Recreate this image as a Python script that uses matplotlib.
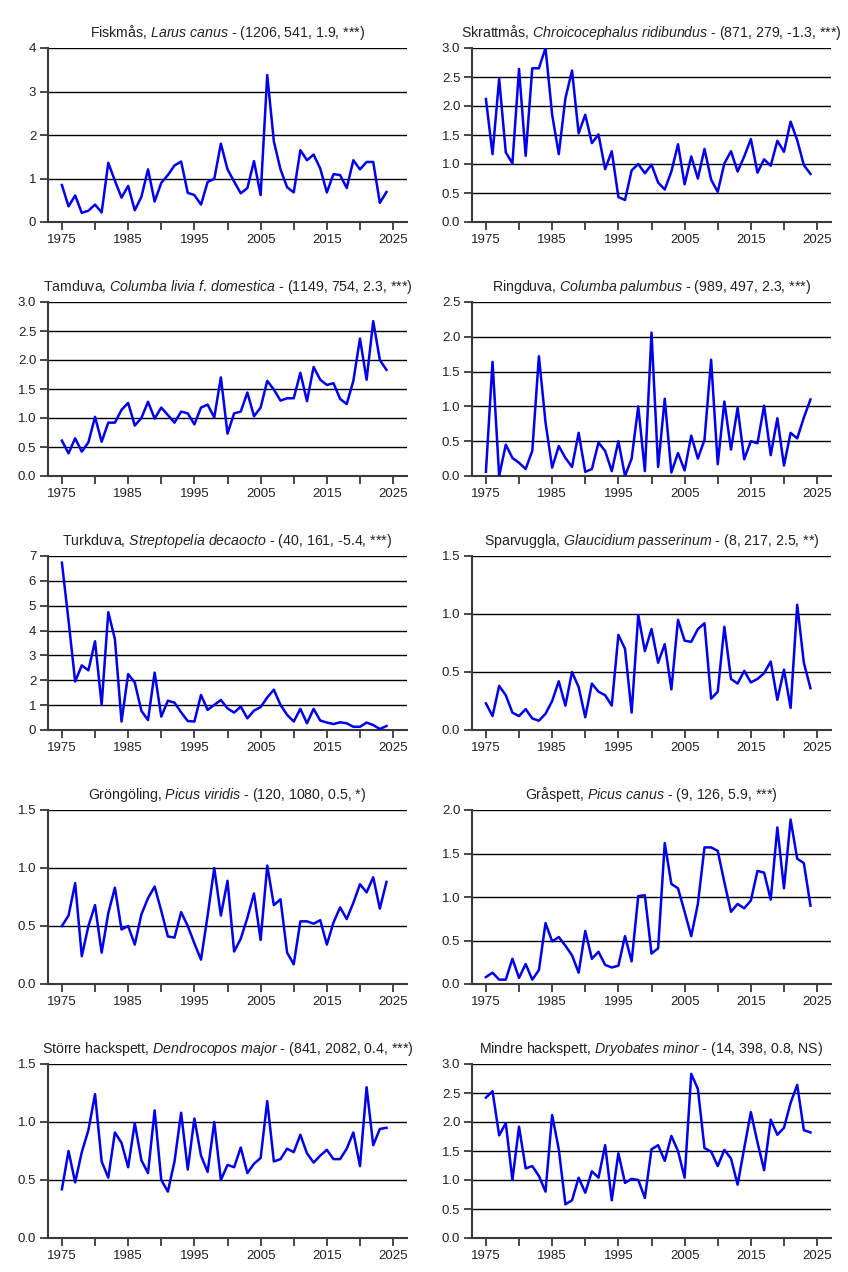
import numpy as np
import matplotlib
matplotlib.use("Agg")
import matplotlib.pyplot as plt
from matplotlib.ticker import MultipleLocator, FormatStrFormatter

plt.rcParams['font.family'] = ['Liberation Sans', 'DejaVu Sans']
plt.rcParams['mathtext.fontset'] = 'custom'
plt.rcParams['mathtext.rm'] = 'Liberation Sans'
plt.rcParams['mathtext.it'] = 'Liberation Sans:italic'

years = list(range(1975, 2025))

fiskmas = [0.85, 0.36, 0.61, 0.21, 0.26, 0.40, 0.22, 1.36, 0.95, 0.56,
           0.83, 0.27, 0.58, 1.21, 0.47, 0.90, 1.08, 1.30, 1.39, 0.67,
           0.62, 0.40, 0.92, 0.99, 1.80, 1.21, 0.93, 0.66, 0.78, 1.40,
           0.62, 3.38, 1.85, 1.21, 0.80, 0.68, 1.65, 1.42, 1.55, 1.23,
           0.68, 1.10, 1.08, 0.78, 1.42, 1.21, 1.38, 1.38, 0.44, 0.69]
skrattmas = [2.12, 1.17, 2.47, 1.20, 1.01, 2.64, 1.14, 2.65, 2.65, 3.00,
             1.85, 1.17, 2.13, 2.61, 1.53, 1.85, 1.36, 1.51, 0.91, 1.22,
             0.43, 0.38, 0.89, 1.00, 0.84, 0.99, 0.68, 0.56, 0.87, 1.34,
             0.65, 1.13, 0.75, 1.26, 0.73, 0.52, 1.01, 1.22, 0.87, 1.13,
             1.43, 0.85, 1.08, 0.97, 1.40, 1.21, 1.73, 1.41, 0.98, 0.83]
tamduva = [0.61, 0.39, 0.65, 0.42, 0.58, 1.02, 0.59, 0.92, 0.92, 1.14,
           1.26, 0.87, 1.00, 1.28, 0.99, 1.18, 1.05, 0.92, 1.11, 1.08,
           0.89, 1.18, 1.23, 1.01, 1.70, 0.73, 1.08, 1.11, 1.44, 1.03,
           1.18, 1.64, 1.49, 1.30, 1.34, 1.34, 1.78, 1.29, 1.88, 1.66,
           1.57, 1.60, 1.33, 1.24, 1.64, 2.37, 1.66, 2.67, 2.00, 1.83]
ringduva = [0.06, 1.64, 0.00, 0.45, 0.26, 0.19, 0.10, 0.36, 1.72, 0.77,
            0.12, 0.43, 0.26, 0.13, 0.62, 0.06, 0.10, 0.48, 0.36, 0.07,
            0.50, 0.00, 0.25, 1.00, 0.07, 2.06, 0.13, 1.11, 0.05, 0.33,
            0.08, 0.58, 0.25, 0.52, 1.67, 0.17, 1.07, 0.38, 0.98, 0.24,
            0.50, 0.47, 1.01, 0.30, 0.83, 0.15, 0.62, 0.54, 0.84, 1.10]
turkduva = [6.73, 4.40, 1.95, 2.60, 2.40, 3.57, 1.01, 4.74, 3.66, 0.34,
            2.25, 1.91, 0.77, 0.40, 2.31, 0.54, 1.18, 1.10, 0.71, 0.36,
            0.34, 1.41, 0.81, 1.01, 1.21, 0.87, 0.70, 0.94, 0.47, 0.78,
            0.92, 1.31, 1.62, 1.01, 0.61, 0.34, 0.85, 0.27, 0.85, 0.38,
            0.30, 0.24, 0.31, 0.27, 0.13, 0.13, 0.30, 0.20, 0.04, 0.16]
sparvuggla = [0.23, 0.12, 0.38, 0.30, 0.15, 0.12, 0.18, 0.10, 0.08, 0.14,
              0.25, 0.42, 0.21, 0.50, 0.37, 0.11, 0.40, 0.33, 0.30, 0.21,
              0.82, 0.70, 0.15, 0.99, 0.68, 0.87, 0.58, 0.74, 0.35, 0.95,
              0.77, 0.76, 0.87, 0.92, 0.27, 0.33, 0.89, 0.44, 0.40, 0.51,
              0.41, 0.44, 0.49, 0.59, 0.26, 0.52, 0.19, 1.08, 0.58, 0.36]
grongoling = [0.50, 0.59, 0.87, 0.24, 0.50, 0.68, 0.27, 0.61, 0.83, 0.47,
              0.50, 0.34, 0.60, 0.74, 0.84, 0.63, 0.41, 0.40, 0.62, 0.50,
              0.35, 0.21, 0.59, 1.00, 0.59, 0.89, 0.28, 0.39, 0.57, 0.78,
              0.38, 1.02, 0.68, 0.73, 0.27, 0.17, 0.54, 0.54, 0.52, 0.55,
              0.34, 0.53, 0.66, 0.56, 0.70, 0.86, 0.79, 0.92, 0.65, 0.88]
graspett = [0.08, 0.13, 0.05, 0.05, 0.29, 0.07, 0.23, 0.05, 0.16, 0.70,
            0.49, 0.54, 0.44, 0.33, 0.13, 0.61, 0.29, 0.37, 0.22, 0.19,
            0.21, 0.55, 0.26, 1.01, 1.02, 0.35, 0.41, 1.62, 1.15, 1.10,
            0.83, 0.55, 0.92, 1.57, 1.57, 1.53, 1.17, 0.83, 0.92, 0.87,
            0.96, 1.30, 1.28, 0.97, 1.80, 1.10, 1.89, 1.44, 1.39, 0.90]
storre_hackspett = [0.42, 0.75, 0.48, 0.74, 0.93, 1.24, 0.66, 0.52, 0.91, 0.82,
                    0.61, 0.99, 0.67, 0.56, 1.10, 0.50, 0.40, 0.66, 1.08, 0.59,
                    1.03, 0.71, 0.57, 1.00, 0.50, 0.63, 0.61, 0.78, 0.56, 0.64,
                    0.69, 1.18, 0.66, 0.68, 0.77, 0.74, 0.89, 0.73, 0.65, 0.71,
                    0.76, 0.68, 0.68, 0.77, 0.91, 0.62, 1.30, 0.80, 0.94, 0.95]
mindre_hackspett = [2.42, 2.53, 1.77, 1.98, 1.00, 1.92, 1.20, 1.24, 1.07, 0.80,
                    2.12, 1.53, 0.58, 0.65, 1.04, 0.78, 1.15, 1.04, 1.60, 0.65,
                    1.46, 0.95, 1.02, 1.00, 0.69, 1.53, 1.60, 1.33, 1.76, 1.50,
                    1.04, 2.83, 2.57, 1.55, 1.49, 1.24, 1.52, 1.37, 0.92, 1.55,
                    2.17, 1.65, 1.17, 2.04, 1.78, 1.90, 2.33, 2.64, 1.86, 1.82]

# italic species names via mathtext; the period after "f" kept outside math
# so mathtext doesn't add punctuation spacing
titles = [
    r"Fiskmås, $\mathit{Larus\ canus}$ - (1206, 541, 1.9, ***)",
    r"Skrattmås, $\mathit{Chroicocephalus\ ridibundus}$ - (871, 279, -1.3, ***)",
    r"Tamduva, $\mathit{Columba\ livia\ f}$. $\mathit{domestica}$ - (1149, 754, 2.3, ***)",
    r"Ringduva, $\mathit{Columba\ palumbus}$ - (989, 497, 2.3, ***)",
    r"Turkduva, $\mathit{Streptopelia\ decaocto}$ - (40, 161, -5.4, ***)",
    r"Sparvuggla, $\mathit{Glaucidium\ passerinum}$ - (8, 217, 2.5, **)",
    r"Gröngöling, $\mathit{Picus\ viridis}$ - (120, 1080, 0.5, *)",
    r"Gråspett, $\mathit{Picus\ canus}$ - (9, 126, 5.9, ***)",
    r"Större hackspett, $\mathit{Dendrocopos\ major}$ - (841, 2082, 0.4, ***)",
    r"Mindre hackspett, $\mathit{Dryobates\ minor}$ - (14, 398, 0.8, NS)",
]
series = [fiskmas, skrattmas, tamduva, ringduva, turkduva,
          sparvuggla, grongoling, graspett, storre_hackspett, mindre_hackspett]
ymax = [4, 3, 3, 2.5, 7, 1.5, 1.5, 2, 1.5, 3]
ystep = [1, 0.5, 0.5, 0.5, 1, 0.5, 0.5, 0.5, 0.5, 0.5]

W, H = 848, 1272
fig = plt.figure(figsize=(8.48, 12.72), dpi=100)

for i in range(10):
    row, col = i // 2, i % 2
    left = (48 + col * 424) / W
    top = 48 + row * 254
    bottom = 1 - (top + 174) / H
    ax = fig.add_axes([left, bottom, 359 / W, 174 / H])

    ax.plot(years, series[i], color='#0000ee', lw=1.8, zorder=3)
    ax.set_xlim(1972.9, 2027.1)
    ax.set_ylim(0, ymax[i])
    ax.yaxis.set_major_locator(MultipleLocator(ystep[i]))
    if ystep[i] == 1:
        ax.yaxis.set_major_formatter(FormatStrFormatter('%d'))
    else:
        ax.yaxis.set_major_formatter(FormatStrFormatter('%.1f'))
    ax.set_xticks(range(1975, 2026, 10))
    ax.set_xticks(range(1980, 2021, 10), minor=True)
    ax.grid(axis='y', color='black', lw=1.0, zorder=1)
    ax.set_axisbelow(True)

    for s in ['top', 'right']:
        ax.spines[s].set_visible(False)
    for s in ['left', 'bottom']:
        ax.spines[s].set_color('#3a3a3a')
        ax.spines[s].set_linewidth(1.5)
    ax.tick_params(which='both', direction='out', length=5.5, width=1.3,
                   color='#3a3a3a', labelsize=9.5, labelcolor='#222222', pad=3)
    ax.set_title(titles[i], fontsize=10.2, pad=8, color='#222222')

fig.savefig("out.png", dpi=100)
